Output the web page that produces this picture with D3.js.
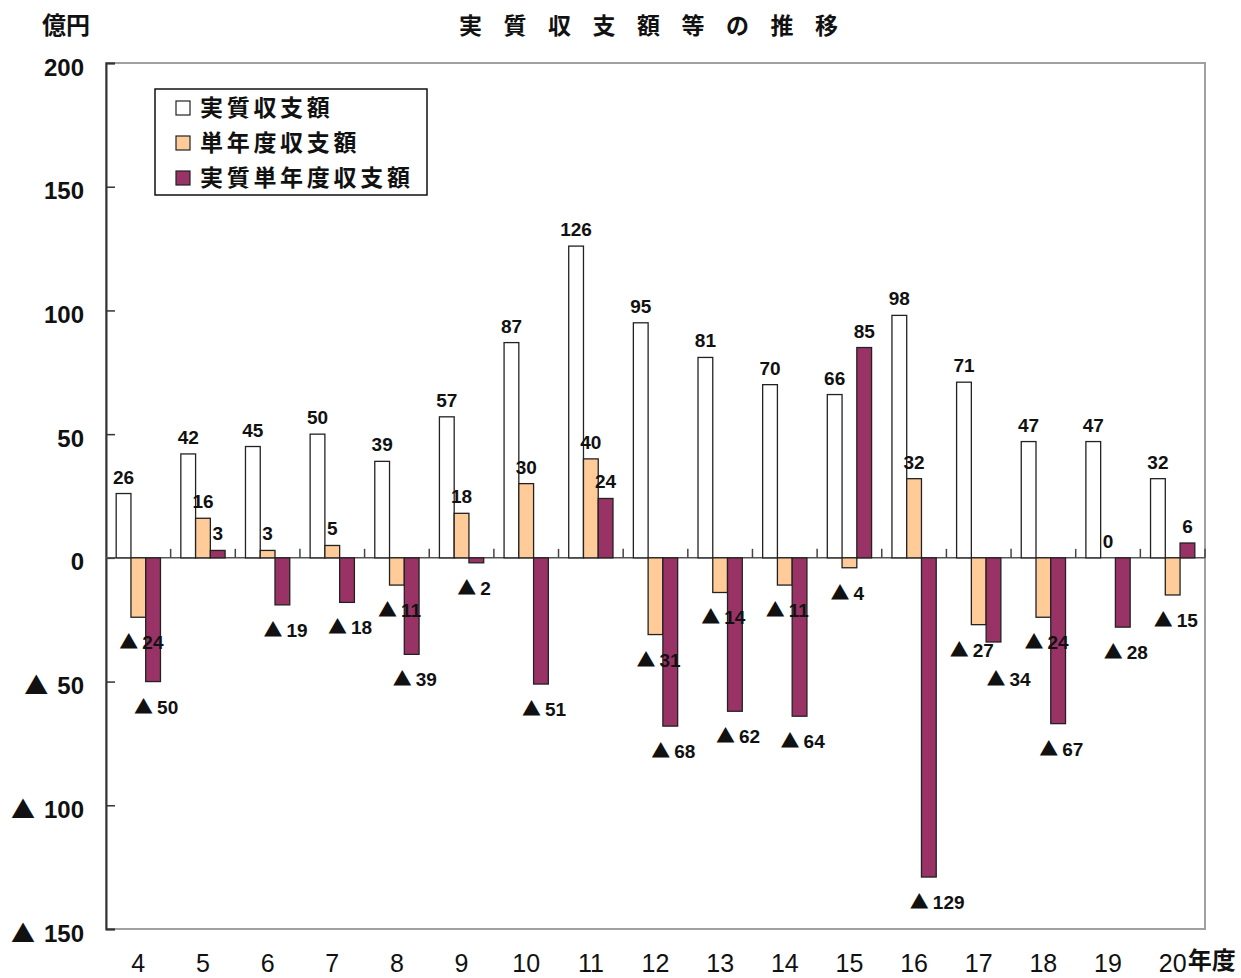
<!DOCTYPE html>
<html><head><meta charset="utf-8">
<script src="https://cdn.jsdelivr.net/npm/d3@7"></script>
<style>
html,body{margin:0;padding:0;background:#fff;}
svg{display:block;}
</style></head>
<body>
<svg id="chart" width="1241" height="978"></svg>
<script>
const categories = ["4","5","6","7","8","9","10","11","12","13","14","15","16","17","18","19","20"];
const realBalance = [26,42,45,50,39,57,87,126,95,81,70,66,98,71,47,47,32];
const singleYearBalance = [-24,16,3,5,-11,18,30,40,-31,-14,-11,-4,32,-27,-24,0,-15];
const realSingleYearBalance = [-50,3,-19,-18,-39,-2,-51,24,-68,-62,-64,85,-129,-34,-67,-28,6];
const seriesNames = ["実質収支額","単年度収支額","実質単年度収支額"];
const seriesColors = ["#ffffff","#ffcc99","#993366"];
const yTickValues = [200,150,100,50,0,-50,-100,-150];
const titleText = "実質収支額等の推移";
const unitText = "億円";
const xUnitText = "年度";
const negMark = "▲";

const seriesValues = [realBalance, singleYearBalance, realSingleYearBalance];
const svg = d3.select("#chart");
const L = 106, R = 1205, T = 63, B = 929;
const numFont = "'Liberation Sans', Arial, sans-serif";
const jpFont = "'Noto Sans CJK JP', sans-serif";

const y = d3.scaleLinear().domain([-150, 200]).range([B, T]);
const x0 = d3.scaleBand().domain(categories).range([L, R]).paddingInner(0).paddingOuter(0);
const x1 = d3.scaleBand().domain(d3.range(3)).range([0, x0.bandwidth()]).paddingInner(0).paddingOuter(0.69);

function writeSigned(sel, v, gap) {
  if (v < 0) {
    sel.append("tspan").attr("font-family", jpFont).text(negMark);
    sel.append("tspan").attr("dx", gap).text(Math.abs(v));
  } else {
    sel.text(v);
  }
}

// frame
svg.append("rect").attr("x", L).attr("y", T).attr("width", R - L).attr("height", B - T)
  .attr("fill", "none").attr("stroke", "#a0a0a0").attr("stroke-width", 2);

// y axis
const yAxis = d3.axisLeft(y).tickValues(yTickValues).tickSize(-9).tickPadding(0).tickFormat(() => "");
const gy = svg.append("g").attr("transform", `translate(${L},0)`).call(yAxis);
gy.select(".domain").attr("stroke", "#333").attr("stroke-width", 2);
gy.selectAll(".tick line").attr("stroke", "#333").attr("stroke-width", 1.5);
gy.selectAll(".tick text").attr("x", -22).attr("dy", "0.5em")
  .attr("font-family", numFont).attr("font-size", 24).attr("font-weight", "bold").attr("fill", "#111")
  .each(function(d) { writeSigned(d3.select(this), d, 9); });

// zero line with category separator ticks
const y0 = y(0);
svg.append("line").attr("x1", L).attr("x2", R).attr("y1", y0).attr("y2", y0)
  .attr("stroke", "#555").attr("stroke-width", 1.5);
svg.append("g").selectAll("line").data(categories.slice(1).concat(["__end"]))
  .join("line")
  .attr("x1", d => d === "__end" ? R : x0(d)).attr("x2", d => d === "__end" ? R : x0(d))
  .attr("y1", y0).attr("y2", y0 - 9).attr("stroke", "#444").attr("stroke-width", 1.5);

// bars
const barData = [];
categories.forEach((c, i) => seriesValues.forEach((vals, s) => barData.push({c, i, s, v: vals[i]})));
svg.append("g").selectAll("rect").data(barData).join("rect")
  .attr("x", d => x0(d.c) + x1(d.s))
  .attr("width", x1.bandwidth())
  .attr("y", d => Math.min(y(d.v), y0))
  .attr("height", d => Math.abs(y(d.v) - y0))
  .attr("fill", d => seriesColors[d.s])
  .attr("stroke", "#222").attr("stroke-width", 1.3);

// value labels
const lab = svg.append("g").attr("font-family", numFont).attr("font-size", 19)
  .attr("font-weight", "bold").attr("fill", "#111");
barData.forEach(d => {
  const cx = x0(d.c) + x1(d.s) + x1.bandwidth() / 2;
  const t = lab.append("text");
  if (d.v >= 0) {
    t.attr("x", cx).attr("y", y(d.v) - 10).attr("text-anchor", "middle");
  } else {
    let sx = cx - 19, sy = y(d.v) + 32;
    // keep the two negative labels of one year apart when their bars end close together
    const ov = singleYearBalance[d.i], pv = realSingleYearBalance[d.i];
    const close = ov < 0 && pv < 0 && Math.abs(y(pv) - y(ov)) < 22;
    if (close && d.s === 1) sx -= 10;
    if (close && d.s === 2) { sx += 12; sy += 12; }
    t.attr("x", sx).attr("y", sy).attr("text-anchor", "start");
  }
  writeSigned(t, d.v, 4);
});

// x labels
const xl = svg.append("g").attr("font-family", numFont).attr("font-size", 25).attr("fill", "#111");
categories.forEach(c => {
  xl.append("text").attr("x", x0(c) + x0.bandwidth() / 2).attr("y", 972).attr("text-anchor", "middle").text(c);
});
const lastC = categories[categories.length - 1];
svg.append("text").attr("x", x0(lastC) + x0.bandwidth() / 2 + 15).attr("y", 969)
  .attr("font-family", jpFont).attr("font-weight", "bold").attr("font-size", 24).attr("fill", "#111").text(xUnitText);

// title & unit
svg.append("text").attr("x", 459).attr("y", 34).attr("font-family", jpFont).attr("font-weight", "bold")
  .attr("font-size", 23).attr("letter-spacing", 21.5).attr("fill", "#111").text(titleText);
svg.append("text").attr("x", 42).attr("y", 34).attr("font-family", jpFont).attr("font-weight", "bold")
  .attr("font-size", 24).attr("fill", "#111").text(unitText);

// legend
const lg = svg.append("g");
lg.append("rect").attr("x", 155).attr("y", 89).attr("width", 272).attr("height", 106)
  .attr("fill", "#fff").attr("stroke", "#111").attr("stroke-width", 1.5);
seriesNames.forEach((n, i) => {
  const cy = 108 + i * 35;
  lg.append("rect").attr("x", 176).attr("y", cy - 7).attr("width", 14).attr("height", 14)
    .attr("fill", seriesColors[i]).attr("stroke", "#222").attr("stroke-width", 1.2);
  lg.append("text").attr("x", 200).attr("y", cy).attr("dy", "0.36em")
    .attr("font-family", jpFont).attr("font-weight", "bold").attr("font-size", 23)
    .attr("letter-spacing", 3.7).attr("fill", "#111").text(n);
});
</script>
</body></html>
